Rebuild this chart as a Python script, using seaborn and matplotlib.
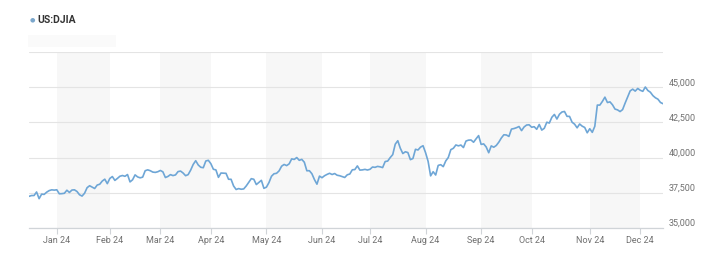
import numpy as np
import pandas as pd
import matplotlib
matplotlib.use("Agg")
import matplotlib.pyplot as plt
import seaborn as sns

# ---- data: DJIA daily closes, 2023-12-14 .. 2024-12-13 (trading days) ----
holidays = ["2023-12-25", "2024-01-01", "2024-01-15", "2024-02-19", "2024-03-29",
            "2024-05-27", "2024-06-19", "2024-07-04", "2024-09-02", "2024-11-28"]
closes_dec23 = [37248, 37306, 37307, 37558, 37083, 37405, 37386, 37545, 37657, 37711, 37690]
closes_jan = [37715, 37430, 37440, 37466, 37683, 37525, 37696, 37711, 37593, 37361, 37267,
              37469, 37863, 38002, 37906, 37806, 38050, 38109, 38333, 38467, 38150]
closes_feb = [38519, 38654, 38380, 38521, 38677, 38727, 38671, 38797, 38273, 38424, 38773,
              38628, 38564, 38612, 39069, 39131, 39069, 38972, 38949, 38996]
closes_mar = [39087, 38990, 38585, 38661, 38791, 38723, 38770, 39005, 39043, 38906, 38715,
              38790, 39111, 39512, 39781, 39476, 39313, 39282, 39760, 39807]
closes_apr = [39567, 39170, 39127, 38597, 38904, 38892, 38883, 38461, 38459, 37983, 37735,
              37799, 37753, 37775, 37986, 38240, 38503, 38461, 38086, 38240, 38386, 37816]
closes_may = [37903, 38226, 38676, 38852, 38884, 39056, 39388, 39513, 39432, 39558, 39908,
              39869, 40004, 39807, 39873, 39671, 39065, 39070, 38853, 38442, 38112, 38686]
closes_jun = [38572, 38712, 38807, 38886, 38799, 38868, 38747, 38712, 38647, 38589, 38778,
              38834, 39134, 39150, 39411, 39112, 39127, 39164, 39118]
closes_jul = [39170, 39331, 39308, 39375, 39344, 39291, 39721, 39753, 40001, 40212, 40954,
              41198, 40665, 40288, 40415, 40358, 39854, 39935, 40590, 40540, 40743, 40843]
closes_aug = [40348, 39737, 38703, 38997, 38763, 39446, 39498, 39357, 39766, 40009, 40564,
              40660, 40897, 40835, 40891, 40713, 41175, 41240, 41250, 41091, 41335, 41563]
closes_sep = [40937, 40975, 40756, 40345, 40830, 40737, 40862, 41097, 41394, 41622, 41606,
              41503, 42025, 42063, 42124, 42208, 41915, 42175, 42313, 42330]
closes_oct = [42156, 42196, 42011, 42353, 41954, 42080, 42512, 42454, 42864, 43065, 42740,
              43077, 43239, 43276, 42931, 42925, 42514, 42374, 42114, 42387, 42233, 42142, 41763]
closes_nov = [42052, 41794, 42222, 43730, 43729, 43989, 44293, 43911, 43958, 43751, 43445,
              43390, 43269, 43408, 43870, 44297, 44737, 44861, 44722, 44911]
closes_dec24 = [44782, 44706, 45014, 44766, 44643, 44402, 44248, 44149, 43914, 43828]

y_ticks = [35000, 37500, 40000, 42500, 45000, 47500]
y_tick_labels = ["35,000", "37,500", "40,000", "42,500", "45,000", ""]
title = "US:DJIA"

closes = (closes_dec23 + closes_jan + closes_feb + closes_mar + closes_apr + closes_may +
          closes_jun + closes_jul + closes_aug + closes_sep + closes_oct + closes_nov + closes_dec24)
dates = pd.bdate_range("2023-12-14", "2024-12-13", freq="C", holidays=holidays)
n = min(len(dates), len(closes))
df = pd.DataFrame({"date": dates[:n], "close": closes[:n]})
df["idx"] = np.arange(n)

# first trading day of each month in 2024 -> tick positions
first = df[df["date"].dt.year == 2024].groupby(df["date"].dt.to_period("M"))["idx"].min()
tick_pos = list(first.values)
tick_lab = [p.strftime("%b %y") for p in first.index]

# ---- figure ----
sns.set_theme(style="white")
plt.rcParams["font.family"] = ["Roboto", "DejaVu Sans"]

fig = plt.figure(figsize=(7.2, 2.58), dpi=100)
ax = fig.add_axes([29 / 720, 1 - 228 / 258, 634 / 720, 176 / 258])

# alternating shaded month bands
for i in range(0, len(tick_pos) - 1, 2):
    ax.axvspan(tick_pos[i], tick_pos[i + 1], color="#f7f7f7", zorder=0, lw=0)

for yv in y_ticks:
    ax.axhline(yv, color="#e4e4e4", lw=0.8, zorder=1)

sns.lineplot(data=df, x="idx", y="close", ax=ax, color="#6ea6d6", lw=1.2, zorder=3)

ax.set_xlim(0, n - 1)
ax.set_ylim(35000, 47500)
ax.set_xlabel("")
ax.set_ylabel("")
for s in ["top", "left", "right"]:
    ax.spines[s].set_visible(False)
ax.spines["bottom"].set_color("#d0d4d8")
ax.spines["bottom"].set_linewidth(0.9)

ax.set_xticks(tick_pos)
ax.set_xticklabels(tick_lab, fontsize=6.5, color="#707070")
ax.tick_params(axis="x", length=4, width=0.8, color="#d0d4d8", pad=2, bottom=True)

ax.yaxis.tick_right()
ax.set_yticks(y_ticks)
ax.set_yticklabels(y_tick_labels, fontsize=6.5, color="#707070")
for lbl in ax.get_yticklabels():
    lbl.set_verticalalignment("bottom")
ax.tick_params(axis="y", length=0, pad=4, right=False)

# title with dot
fig.text(30 / 720, 1 - 20 / 258, "\u25CF", fontsize=4.5, color="#7ba7cc", va="center", ha="left")
fig.text(37 / 720, 1 - 20 / 258, title, fontsize=7.5, fontweight="bold", color="#333333",
         va="center", ha="left")
# faint placeholder bar under title
fig.patches.append(plt.Rectangle((28 / 720, 1 - 47 / 258), 88 / 720, 12 / 258,
                                 transform=fig.transFigure, color="#fafafa", lw=0, zorder=0))

fig.savefig("out.png", dpi=100)
